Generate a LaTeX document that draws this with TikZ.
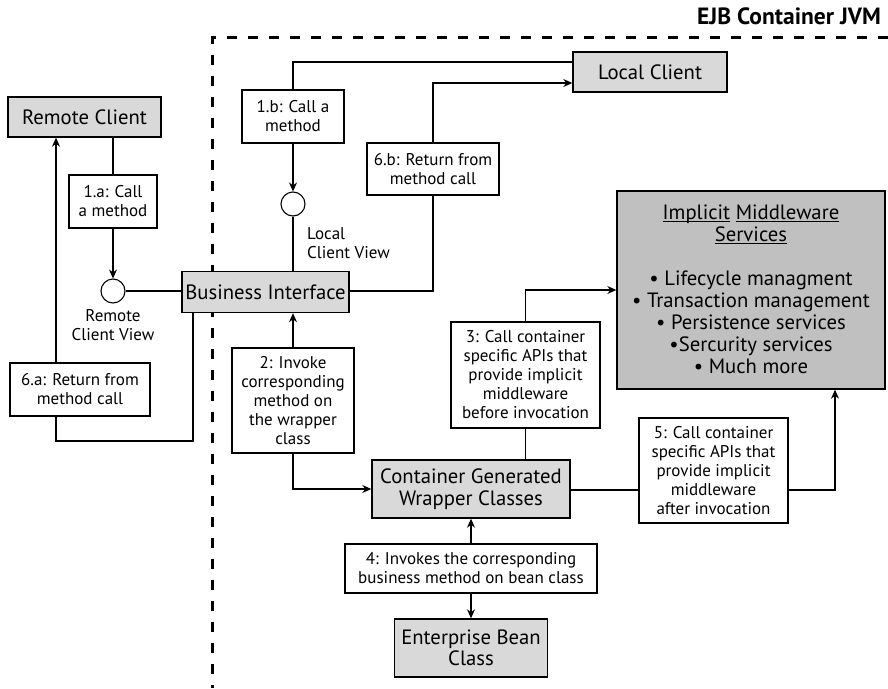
\documentclass[tikz,border=0pt]{standalone}
\usepackage{fontspec}
\setmainfont{PT Sans}
\usetikzlibrary{arrows.meta,backgrounds}
\definecolor{boxgray}{HTML}{D9D9D9}
\definecolor{darkgray}{HTML}{C0C0C0}
\newcommand\myul[1]{\setbox0\hbox{#1}\rlap{\rule[-3pt]{\wd0}{1pt}}\box0\relax}
\tikzset{
  x=1pt,y=-1pt,
  graybox/.style={draw,line width=1.4pt,fill=boxgray,inner sep=0pt,align=center,font=\fontsize{20.7}{21.5}\selectfont},
  lbl/.style={draw,line width=1.2pt,fill=white,inner sep=0pt,align=center,font=\fontsize{17}{19}\selectfont},
  iface/.style={circle,draw,line width=1.1pt,fill=white,minimum size=24pt,inner sep=0pt},
  plain/.style={inner sep=0pt,align=center,font=\fontsize{17}{19}\selectfont},
  conn/.style={line width=1.2pt},
  arr/.style={line width=1.2pt,-{Stealth[length=9pt,width=8pt]}},
  boundary/.style={line width=3pt,dash pattern=on 10pt off 11pt}
}
\begin{document}
\begin{tikzpicture}
\useasboundingbox (0,0) rectangle (888,688);
% container boundary
\draw[boundary] (888,37) -- (212.5,37) -- (212.5,688);
\node[anchor=east,inner sep=0pt,font=\fontsize{23.5}{25}\selectfont\bfseries] (ejb) at (881,16) {EJB Container JVM};

% nodes
\node[graybox,minimum width=153,minimum height=40] (rc) at (84.5,117) {Remote Client};
\node[lbl,minimum width=88,minimum height=53] (la) at (113,201.5) {1.a: Call\\a method};
\node[iface] (crc) at (113,291) {};
\node[plain] (rcv) at (113,325.5) {Remote\\Client View};
\node[graybox,minimum width=167,minimum height=41] (bi) at (265.5,292) {Business Interface};
\node[lbl,minimum width=140,minimum height=53] (ra) at (80,389.5) {6.a: Return from\\method call};

\node[graybox,minimum width=154,minimum height=40] (lc) at (650,72) {Local Client};
\node[lbl,minimum width=102,minimum height=53] (lb) at (293,116.5) {1.b: Call a\\method};
\node[iface] (clc) at (293,204) {};
\node[plain,anchor=west,align=left] (lcv) at (307,243.5) {Local\\Client View};
\node[lbl,minimum width=132,minimum height=52] (rb) at (433,169) {6.b: Return from\\method call};

\node[lbl,minimum width=122,minimum height=105] (two) at (293,400.5) {2: Invoke\\corresponding\\method on\\the wrapper\\class};
\node[lbl,minimum width=149,minimum height=106] (three) at (525.5,375) {3: Call container\\specific APIs that\\provide implicit\\middleware\\before invocation};
\node[draw,line width=1.4pt,fill=darkgray,minimum width=268,minimum height=198,inner sep=0pt] (ims) at (751,290) {};
\node[inner sep=0pt,align=center,font=\fontsize{20.7}{22}\selectfont] (imstext) at (751,289) {\myul{Implicit} \myul{Middleware}\\\myul{Services}\\[22pt]%
• Lifecycle managment\\• Transaction management\\• Persistence services\\•Sercurity services\\• Much more};
\node[graybox,minimum width=198,minimum height=58] (cgw) at (471,489) {Container Generated\\Wrapper Classes};
\node[lbl,minimum width=149,minimum height=105] (five) at (713.5,470.5) {5: Call container\\specific APIs that\\provide implicit\\middleware\\after invocation};
\node[lbl,minimum width=252,minimum height=49] (four) at (471,568.5) {4: Invokes the corresponding\\business method on bean class};
\node[graybox,minimum width=153,minimum height=58] (eb) at (471,648) {Enterprise Bean\\Class};

\coordinate (r1) at (193,441);
\coordinate (r2) at (56,441);
\coordinate (t1) at (293,62);
\coordinate (u1) at (433,83);
\coordinate (w1) at (835,490);

\begin{scope}[on background layer]
% remote client
\draw[conn] (la.north |- rc.south) -- (la.north);
\draw[arr] (la.south) -- (crc.north);
\draw[conn] (crc.east) -- (bi.west |- crc.east);
\draw[arr] (bi.south -| r1) -- (r1) -- (r2) -- (r2 |- rc.south);
% local client
\draw[conn] (lc.west |- t1) -- (t1) -- (lb.north);
\draw[arr] (lb.south) -- (clc.north);
\draw[conn] (clc.south) -- (clc.south |- bi.north);
\draw[arr] (bi.east |- crc.east) -- (u1 |- crc.east) -- (u1) -- (lc.west |- u1);
% wrapper
\draw[arr] (two.north) -- (two.north |- bi.south);
\draw[arr] (two.south) |- (cgw.west);
\draw[conn] (cgw.north -| three.south) -- (three.south);
\draw[arr] (three.north) |- (ims.west);
\draw[conn] (cgw.east |- w1) -- (five.west |- w1);
\draw[arr] (five.east |- w1) -- (w1) -- (w1 |- ims.south);
\draw[arr] (four.north) -- (cgw.south);
\draw[arr] (four.south) -- (eb.north);
\end{scope}
\end{tikzpicture}
\end{document}
